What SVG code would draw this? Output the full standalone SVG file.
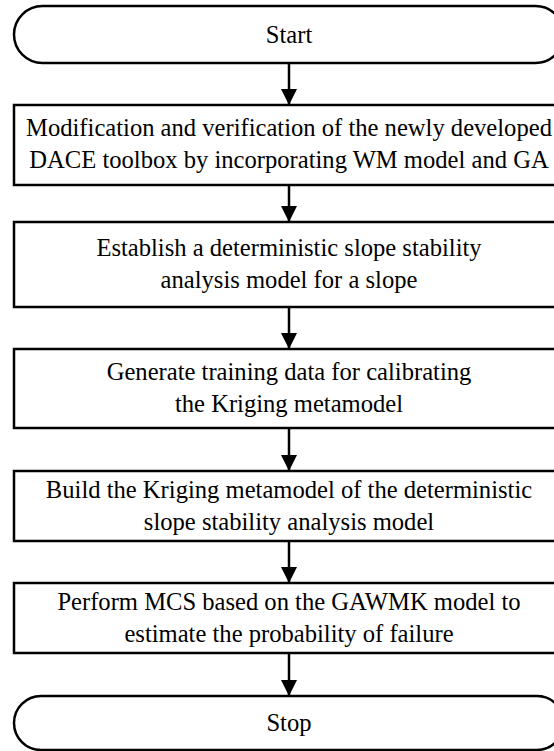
<svg xmlns="http://www.w3.org/2000/svg" width="554" height="751" viewBox="0 0 554 751">
<style>
.box{fill:#fff;stroke:#000;stroke-width:2.5}
.lbl{font-family:"Liberation Serif","Times New Roman",serif;font-size:24.6px;fill:#000;text-anchor:middle}
.conn{stroke:#000;stroke-width:2.5;fill:none}
</style>
<defs>
<marker id="ah" markerWidth="16" markerHeight="17" refX="16" refY="8" orient="auto" markerUnits="userSpaceOnUse" viewBox="0 0 16 16">
<path d="M0,0 L16,8 L0,16 z" fill="#000"/>
</marker>
</defs>
<rect width="554" height="751" fill="#fff"/>
<g id="start"><rect class="box" x="14" y="6" width="550" height="57" rx="28.5"/><text class="lbl" x="289" y="43">Start</text></g>
<g id="step1"><rect class="box" x="14" y="105" width="550" height="80"/><text class="lbl" x="289" y="136">Modification and verification of the newly developed</text><text class="lbl" x="289" y="168">DACE toolbox by incorporating WM model and GA</text></g>
<g id="step2"><rect class="box" x="14" y="222" width="550" height="85"/><text class="lbl" x="289" y="256">Establish a deterministic slope stability</text><text class="lbl" x="289" y="288">analysis model for a slope</text></g>
<g id="step3"><rect class="box" x="14" y="349" width="550" height="79"/><text class="lbl" x="289" y="380">Generate training data for calibrating</text><text class="lbl" x="289" y="412">the Kriging metamodel</text></g>
<g id="step4"><rect class="box" x="14" y="471" width="550" height="70"/><text class="lbl" x="289" y="498">Build the Kriging metamodel of the deterministic</text><text class="lbl" x="289" y="530">slope stability analysis model</text></g>
<g id="step5"><rect class="box" x="14" y="583" width="550" height="70"/><text class="lbl" x="289" y="610">Perform MCS based on the GAWMK model to</text><text class="lbl" x="289" y="642">estimate the probability of failure</text></g>
<g id="stop"><rect class="box" x="14" y="696" width="550" height="54" rx="27"/><text class="lbl" x="289" y="731">Stop</text></g>
<g id="connectors">
<line class="conn" x1="289" y1="63" x2="289" y2="105" marker-end="url(#ah)"/>
<line class="conn" x1="289" y1="185" x2="289" y2="222" marker-end="url(#ah)"/>
<line class="conn" x1="289" y1="307" x2="289" y2="349" marker-end="url(#ah)"/>
<line class="conn" x1="289" y1="428" x2="289" y2="471" marker-end="url(#ah)"/>
<line class="conn" x1="289" y1="541" x2="289" y2="583" marker-end="url(#ah)"/>
<line class="conn" x1="289" y1="653" x2="289" y2="696" marker-end="url(#ah)"/>
</g>
</svg>
